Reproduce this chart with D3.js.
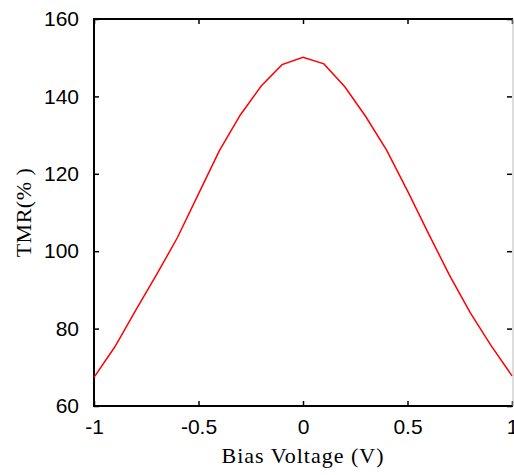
<!DOCTYPE html>
<html lang="en">
  <head>
    <meta charset="utf-8">
    <title>TMR vs Bias Voltage</title>
    <style>
      body { margin: 0; background: #fff; }
      .tick text { font-family: "Liberation Sans", Arial, sans-serif; font-size: 21px; fill: #000; }
    </style>
  </head>
  <body>
    <svg class="chart"></svg>

    <script src="https://d3js.org/d3.v7.min.js"></script>
    <script type="text/javascript">
      // data
      var voltage = [-1, -0.9, -0.8, -0.7, -0.6, -0.5, -0.4, -0.3, -0.2, -0.1, 0,
                     0.1, 0.2, 0.3, 0.4, 0.5, 0.6, 0.7, 0.8, 0.9, 1];
      var tmr = [67.4, 75.3, 84.8, 94.0, 103.6, 114.8, 126.0, 135.2, 142.7, 148.2, 150.1,
                 148.4, 142.5, 134.8, 126.1, 115.6, 104.6, 93.9, 84.1, 75.6, 67.8];
      var xTicks = [-1, -0.5, 0, 0.5, 1];
      var yTicks = [60, 80, 100, 120, 140, 160];

      var w = 514;
      var h = 475;
      var padL = 94, padR = 512, padT = 19, padB = 406;

      var svg = d3.select('.chart')
                  .attr('width', w)
                  .attr('height', h);

      var x = d3.scaleLinear().domain([-1, 1]).range([padL, padR]);
      var y = d3.scaleLinear().domain([60, 160]).range([padB, padT]);

      // plain hyphen for negatives, like the original
      var fmt = function(d) { return String(d); };

      // ticks pointing inwards on all four sides
      svg.append('g')
         .attr('transform', 'translate(0,' + padB + ')')
         .call(d3.axisBottom(x).tickValues(xTicks).tickSizeInner(-5).tickSizeOuter(0)
               .tickPadding(13).tickFormat(fmt));
      svg.append('g')
         .attr('transform', 'translate(0,' + padT + ')')
         .call(d3.axisTop(x).tickValues(xTicks).tickSizeInner(-5).tickSizeOuter(0).tickFormat(''));
      svg.append('g')
         .attr('transform', 'translate(' + padL + ',0)')
         .call(d3.axisLeft(y).tickValues(yTicks).tickSizeInner(-5).tickSizeOuter(0)
               .tickPadding(15).tickFormat(fmt));
      svg.append('g')
         .attr('transform', 'translate(' + padR + ',0)')
         .call(d3.axisRight(y).tickValues(yTicks).tickSizeInner(-5).tickSizeOuter(0).tickFormat(''));

      svg.selectAll('.domain').remove();
      svg.selectAll('.tick line').attr('stroke', '#000').attr('stroke-width', 1.5);

      // box
      svg.append('path')
         .attr('d', 'M' + (padR + 1) + ',' + padT + 'H' + padL + 'V' + padB + 'H' + (padR + 1))
         .attr('fill', 'none')
         .attr('stroke', '#000')
         .attr('stroke-width', 2);
      svg.append('line')
         .attr('x1', padR + 1).attr('x2', padR + 1)
         .attr('y1', padT).attr('y2', padB)
         .attr('stroke', '#bbb')
         .attr('stroke-width', 1);

      var line = d3.line()
                   .x(function(d, i) { return x(voltage[i]); })
                   .y(function(d) { return y(d); });

      svg.append('path')
         .datum(tmr)
         .attr('d', line)
         .attr('fill', 'none')
         .attr('stroke', '#ff0000')
         .attr('stroke-width', 1.5);

      svg.append('text')
         .attr('x', (padL + padR) / 2)
         .attr('y', 463)
         .attr('text-anchor', 'middle')
         .style('font-family', '"Liberation Serif", "Times New Roman", serif')
         .style('font-size', '22px')
         .style('letter-spacing', '1px')
         .text('Bias Voltage (V)');

      svg.append('text')
         .attr('transform', 'translate(31,' + ((padT + padB) / 2) + ') rotate(-90)')
         .attr('text-anchor', 'middle')
         .style('font-family', '"Liberation Serif", "Times New Roman", serif')
         .style('font-size', '22px')
         .style('letter-spacing', '0.5px')
         .text('TMR(% )');
    </script>
  </body>
</html>
